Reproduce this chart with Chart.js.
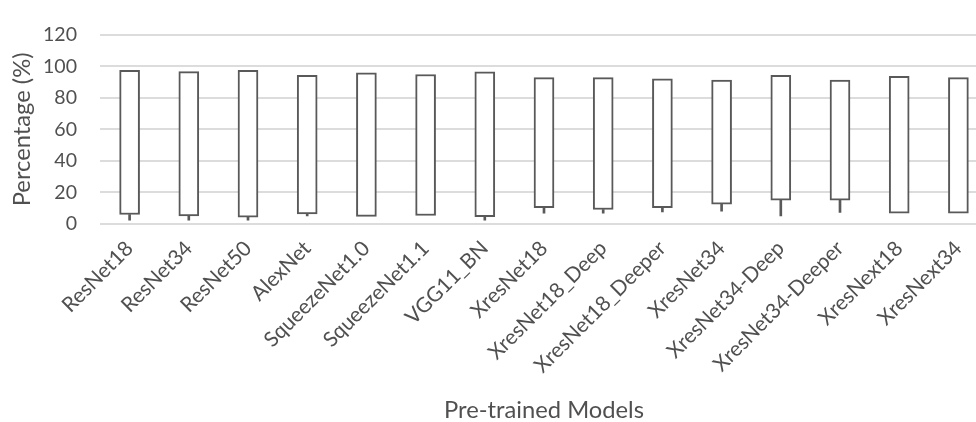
<!DOCTYPE html>
<html><head><meta charset="utf-8">
<script src="https://cdn.jsdelivr.net/npm/chart.js@4.4.1/dist/chart.umd.min.js"></script>
<style>html,body{margin:0;padding:0;overflow:hidden;background:#fff;width:976px;height:422px}canvas{display:block}</style>
</head><body>
<canvas id="c" width="988" height="422"></canvas>
<script>
const categories = ['ResNet18','ResNet34','ResNet50','AlexNet','SqueezeNet1.0','SqueezeNet1.1','VGG11_BN','XresNet18','XresNet18_Deep','XresNet18_Deeper','XresNet34','XresNet34-Deep','XresNet34-Deeper','XresNext18','XresNext34'];
const boxTop    = [97.4, 96.6, 97.4, 94.2, 95.8, 94.8, 96.4, 92.8, 92.8, 92.0, 91.3, 94.2, 91.3, 93.6, 92.8];
const boxBottom = [6.0, 5.2, 4.4, 6.4, 4.8, 5.4, 4.6, 10.4, 9.2, 10.4, 12.5, 15.1, 15.1, 6.8, 6.8];
const whiskerLow = [2.4, 2.4, 2.5, 5.2, null, null, 2.4, 6.8, 6.8, 7.6, 8.2, 5.2, 7.4, null, null];
const yTicks = [0, 20, 40, 60, 80, 100, 120];

const FAMILY = 'Lato, "Open Sans", sans-serif';
const mctx = document.createElement('canvas').getContext('2d');
function fitSize(text, target) { mctx.font = '100px ' + FAMILY; return 100 * target / mctx.measureText(text).width; }
const tickSize = fitSize('XresNet18_Deeper', 176);
const yTickSize = fitSize('120', 34);
const titleSize = fitSize('Pre-trained Models', 200);
const TXT = '#505050';

const boxes = categories.map((c, i) => [boxBottom[i], boxTop[i]]);
const whiskers = categories.map((c, i) => whiskerLow[i] == null ? null : [whiskerLow[i], boxBottom[i]]);

new Chart(document.getElementById('c'), {
  type: 'bar',
  data: {
    labels: categories,
    datasets: [
      { data: boxes, grouped: false, barThickness: 20, backgroundColor: '#ffffff', borderColor: '#595959', borderWidth: 2, borderSkipped: false },
      { data: whiskers, grouped: false, barThickness: 2, backgroundColor: '#595959', borderWidth: 0 }
    ]
  },
  options: {
    responsive: false,
    devicePixelRatio: 1,
    animation: false,
    layout: { padding: { top: 23, left: 0, right: 0, bottom: 0 } },
    plugins: { legend: { display: false }, tooltip: { enabled: false } },
    scales: {
      x: {
        grid: { display: false },
        border: { display: false },
        ticks: { color: TXT, font: { family: FAMILY, size: tickSize }, minRotation: 45, maxRotation: 45, autoSkip: false, padding: 4 },
        title: { display: true, text: 'Pre-trained Models', color: TXT, font: { family: FAMILY, size: titleSize, lineHeight: 1 }, padding: { top: 0, bottom: 0 } },
        afterFit: s => { s.height = 198; }
      },
      y: {
        min: yTicks[0], max: yTicks[yTicks.length - 1],
        ticks: { stepSize: yTicks[1] - yTicks[0], color: TXT, font: { family: FAMILY, size: yTickSize }, padding: 23 },
        grid: { color: '#dcdcdc', lineWidth: 2, drawTicks: false },
        border: { display: false },
        title: { display: true, text: 'Percentage (%)', color: TXT, font: { family: FAMILY, size: titleSize }, padding: { top: 8, bottom: 0 } },
        afterFit: s => { s.width = 100; }
      }
    }
  }
});
</script>
</body></html>
